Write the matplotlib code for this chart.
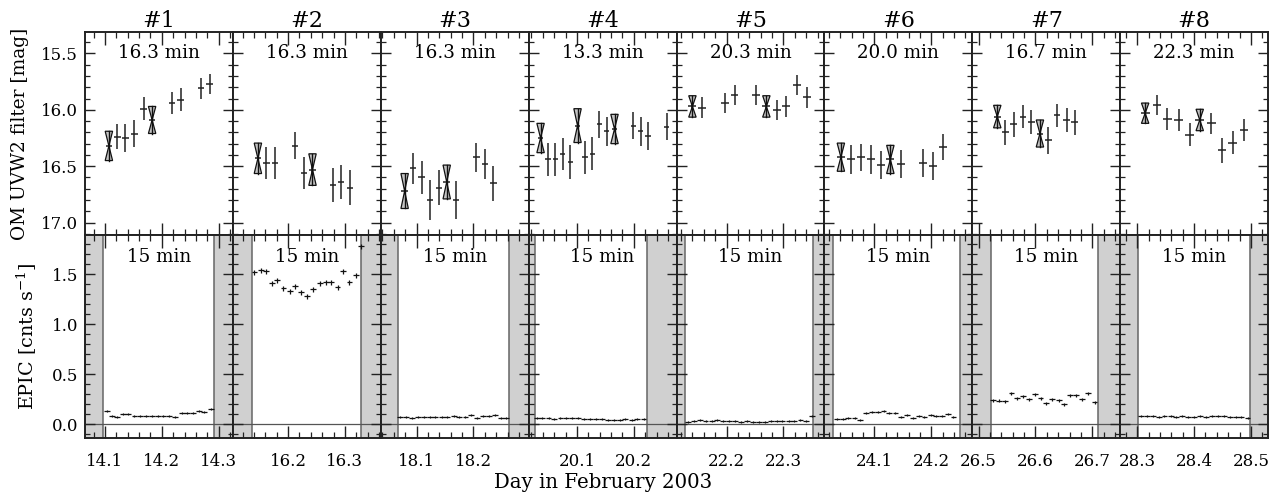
import matplotlib
matplotlib.use('Agg')
import matplotlib.pyplot as plt
from matplotlib.patches import Polygon
from matplotlib.ticker import MultipleLocator, FormatStrFormatter

plt.rcParams['font.family'] = ['DejaVu Serif']
plt.rcParams['mathtext.fontset'] = 'dejavuserif'

# ---------------- data ----------------
panel_titles = ['#1', '#2', '#3', '#4', '#5', '#6', '#7', '#8']
om_bin_labels = ['16.3 min', '16.3 min', '16.3 min', '13.3 min',
                 '20.3 min', '20.0 min', '16.7 min', '22.3 min']
epic_bin_label = '15 min'

x_limits = [(14.065, 14.325), (16.103, 16.363), (18.037, 18.297), (20.015, 20.275),
            (22.112, 22.372), (24.012, 24.272), (26.489, 26.749), (28.270, 28.530)]
x_ticks = [[14.1, 14.2, 14.3], [16.2, 16.3], [18.1, 18.2], [20.1, 20.2],
           [22.2, 22.3], [24.1, 24.2], [26.5, 26.6, 26.7], [28.3, 28.4, 28.5]]
om_yticks = [15.5, 16.0, 16.5, 17.0]
epic_yticks = [0.0, 0.5, 1.0, 1.5]

om_time = [
    [14.107, 14.122, 14.136, 14.152, 14.168, 14.183, 14.218, 14.233, 14.269, 14.284],
    [16.147, 16.162, 16.177, 16.212, 16.228, 16.243, 16.279, 16.293, 16.309],
    [18.079, 18.094, 18.109, 18.124, 18.139, 18.153, 18.169, 18.205, 18.220, 18.235],
    [20.036, 20.049, 20.062, 20.075, 20.088, 20.101, 20.114, 20.127, 20.139, 20.152,
     20.166, 20.199, 20.212, 20.225, 20.258],
    [22.140, 22.157, 22.197, 22.214, 22.252, 22.270, 22.288, 22.305, 22.324, 22.342],
    [24.041, 24.059, 24.077, 24.094, 24.111, 24.128, 24.146, 24.185, 24.203, 24.221],
    [26.533, 26.547, 26.562, 26.578, 26.593, 26.608, 26.623, 26.638, 26.655, 26.669],
    [28.314, 28.335, 28.353, 28.373, 28.392, 28.410, 28.430, 28.449, 28.468, 28.488],
]
om_mag = [
    [16.32, 16.24, 16.25, 16.21, 15.99, 16.09, 15.94, 15.91, 15.81, 15.77],
    [16.43, 16.47, 16.47, 16.32, 16.56, 16.53, 16.67, 16.64, 16.69],
    [16.72, 16.52, 16.60, 16.80, 16.69, 16.64, 16.80, 16.42, 16.48, 16.65],
    [16.25, 16.44, 16.44, 16.39, 16.46, 16.14, 16.42, 16.39, 16.13, 16.19,
     16.17, 16.14, 16.19, 16.23, 16.15],
    [15.97, 15.98, 15.94, 15.87, 15.87, 15.97, 16.00, 15.97, 15.78, 15.89],
    [16.42, 16.44, 16.42, 16.44, 16.49, 16.44, 16.48, 16.47, 16.50, 16.33],
    [16.06, 16.20, 16.13, 16.06, 16.11, 16.21, 16.27, 16.05, 16.09, 16.11],
    [16.03, 15.96, 16.08, 16.09, 16.22, 16.09, 16.12, 16.36, 16.29, 16.18],
]
om_err = [
    [0.13, 0.11, 0.12, 0.12, 0.10, 0.12, 0.10, 0.10, 0.09, 0.09],
    [0.135, 0.14, 0.14, 0.12, 0.145, 0.14, 0.15, 0.155, 0.155],
    [0.155, 0.14, 0.15, 0.18, 0.155, 0.15, 0.17, 0.13, 0.135, 0.155],
    [0.13, 0.15, 0.145, 0.14, 0.15, 0.15, 0.145, 0.145, 0.12, 0.13,
     0.13, 0.12, 0.13, 0.125, 0.12],
    [0.095, 0.09, 0.09, 0.09, 0.09, 0.095, 0.09, 0.09, 0.085, 0.09],
    [0.125, 0.125, 0.12, 0.125, 0.125, 0.125, 0.125, 0.125, 0.125, 0.115],
    [0.10, 0.11, 0.11, 0.105, 0.105, 0.12, 0.12, 0.105, 0.11, 0.11],
    [0.09, 0.09, 0.095, 0.095, 0.105, 0.095, 0.095, 0.11, 0.105, 0.10],
]
om_bowtie_idx = [[0, 5], [0, 5], [0, 5], [0, 5, 10], [0, 5], [0, 5], [0, 5], [0, 5]]
om_half_bin = [0.0057, 0.0057, 0.0057, 0.0046, 0.0070, 0.0069, 0.0058, 0.0077]

epic_time = [
    [14.103, 14.113, 14.122, 14.132, 14.141, 14.152, 14.162, 14.172, 14.182, 14.193,
     14.203, 14.213, 14.223, 14.235, 14.245, 14.255, 14.265, 14.275, 14.287],
    [16.141, 16.153, 16.162, 16.172, 16.181, 16.192, 16.203, 16.213, 16.223, 16.234,
     16.244, 16.256, 16.266, 16.276, 16.287, 16.297, 16.308, 16.319, 16.328],
    [18.071, 18.081, 18.092, 18.102, 18.113, 18.123, 18.133, 18.144, 18.154, 18.165,
     18.175, 18.186, 18.196, 18.206, 18.217, 18.227, 18.238, 18.248, 18.258],
    [20.029, 20.039, 20.050, 20.060, 20.071, 20.081, 20.092, 20.102, 20.112, 20.123,
     20.133, 20.144, 20.154, 20.165, 20.175, 20.185, 20.196, 20.206, 20.217],
    [22.132, 22.142, 22.153, 22.163, 22.174, 22.184, 22.194, 22.205, 22.215, 22.226,
     22.236, 22.246, 22.257, 22.267, 22.278, 22.288, 22.298, 22.309, 22.319, 22.330,
     22.340, 22.350],
    [24.034, 24.044, 24.054, 24.065, 24.075, 24.085, 24.095, 24.106, 24.116, 24.126,
     24.137, 24.147, 24.158, 24.168, 24.178, 24.188, 24.199, 24.209, 24.219, 24.229,
     24.239],
    [26.525, 26.536, 26.547, 26.558, 26.568, 26.578, 26.589, 26.599, 26.609, 26.619,
     26.630, 26.641, 26.651, 26.661, 26.672, 26.682, 26.693, 26.704],
    [28.307, 28.317, 28.327, 28.338, 28.348, 28.359, 28.369, 28.379, 28.390, 28.400,
     28.411, 28.421, 28.431, 28.442, 28.452, 28.463, 28.473, 28.483, 28.494],
]
epic_rate = [
    [0.13, 0.083, 0.067, 0.10, 0.10, 0.083, 0.08, 0.08, 0.08, 0.08,
     0.083, 0.083, 0.073, 0.107, 0.107, 0.113, 0.13, 0.123, 0.15],
    [1.52, 1.54, 1.53, 1.41, 1.44, 1.36, 1.33, 1.38, 1.32, 1.28,
     1.35, 1.41, 1.42, 1.42, 1.37, 1.53, 1.42, 1.49, 1.78],
    [0.075, 0.075, 0.065, 0.07, 0.075, 0.075, 0.075, 0.075, 0.073, 0.08,
     0.07, 0.075, 0.09, 0.06, 0.085, 0.085, 0.09, 0.06, 0.06],
    [0.065, 0.062, 0.058, 0.055, 0.058, 0.06, 0.062, 0.058, 0.05, 0.05,
     0.055, 0.05, 0.045, 0.045, 0.045, 0.05, 0.04, 0.048, 0.05],
    [0.025, 0.035, 0.04, 0.03, 0.03, 0.045, 0.03, 0.03, 0.03, 0.025,
     0.035, 0.025, 0.025, 0.02, 0.035, 0.035, 0.035, 0.03, 0.035, 0.045,
     0.03, 0.08],
    [0.047, 0.05, 0.057, 0.057, 0.04, 0.107, 0.117, 0.123, 0.133, 0.113,
     0.107, 0.073, 0.09, 0.063, 0.083, 0.067, 0.09, 0.083, 0.08, 0.097,
     0.073],
    [0.24, 0.233, 0.23, 0.31, 0.26, 0.28, 0.25, 0.30, 0.26, 0.21,
     0.25, 0.24, 0.20, 0.29, 0.29, 0.25, 0.31, 0.22],
    [0.085, 0.085, 0.08, 0.075, 0.08, 0.078, 0.075, 0.08, 0.072, 0.075,
     0.078, 0.075, 0.08, 0.08, 0.085, 0.075, 0.07, 0.068, 0.06],
]
epic_err = [0.01, 0.025, 0.01, 0.01, 0.01, 0.01, 0.015, 0.01]
epic_half_bin = 0.0052

# good-time intervals (unshaded part of EPIC panels)
gti_start = [14.097, 16.136, 18.067, 20.026, 22.127, 24.028, 26.522, 28.301]
gti_end = [14.291, 16.329, 18.262, 20.223, 22.352, 24.250, 26.710, 28.499]

om_ylim = (17.11, 15.31)
epic_ylim = (-0.14, 1.894)

# ---------------- figure ----------------
W, H = 1286, 497
fig = plt.figure(figsize=(W / 100, H / 100), dpi=100)
L, R = 85 / W, 1268 / W
T, M, B = 1 - 32 / H, 1 - 235 / H, 1 - 438 / H
pw = (R - L) / 8

FS = 12
FS_TXT = 13.2
shade = '#d0d0d0'


def style(ax, xt, yt):
    ax.set_xticks(xt)
    ax.set_yticks(yt)
    ax.xaxis.set_minor_locator(MultipleLocator(0.02))
    ax.yaxis.set_minor_locator(MultipleLocator(0.1))
    ax.tick_params(axis='both', which='both', direction='in', top=True, right=True,
                   colors='#222222', labelcolor='black', labelsize=FS)
    ax.tick_params(axis='x', which='major', length=9, width=1.0, pad=11)
    ax.tick_params(axis='x', which='minor', length=4, width=0.9)
    ax.tick_params(axis='y', which='major', length=7, width=1.0, pad=5)
    ax.tick_params(axis='y', which='minor', length=3.5, width=0.9)
    for sp in ax.spines.values():
        sp.set_linewidth(1.4)
        sp.set_color('#222222')
    ax.xaxis.set_major_formatter(FormatStrFormatter('%.1f'))
    ax.yaxis.set_major_formatter(FormatStrFormatter('%.1f'))


for i in range(8):
    axt = fig.add_axes([L + i * pw, M, pw, T - M])
    axb = fig.add_axes([L + i * pw, B, pw, M - B])

    # ---- OM panel ----
    t, m, e = om_time[i], om_mag[i], om_err[i]
    axt.errorbar(t, m, yerr=e, xerr=om_half_bin[i], fmt='none', ecolor='#222222',
                 elinewidth=1.1, capsize=0, zorder=3)
    w = 0.0065
    for k in om_bowtie_idx[i]:
        x0, y0, e0 = t[k], m[k], e[k]
        top = Polygon([(x0 - w, y0 - e0), (x0 + w, y0 - e0), (x0, y0)], closed=True,
                      facecolor='#c4c4c4', edgecolor='#111111', lw=0.9, zorder=4)
        bot = Polygon([(x0, y0), (x0 - w, y0 + e0), (x0 + w, y0 + e0)], closed=True,
                      facecolor='#c4c4c4', edgecolor='#111111', lw=0.9, zorder=4)
        axt.add_patch(top)
        axt.add_patch(bot)
        axt.plot([x0, x0], [y0 - e0, y0 + e0], color='#111111', lw=1.0, zorder=5)
    axt.set_xlim(*x_limits[i])
    axt.set_ylim(*om_ylim)
    style(axt, x_ticks[i], om_yticks)
    axt.tick_params(axis='x', labelbottom=False)
    axt.set_title(panel_titles[i], fontsize=16, pad=3)
    axt.text(0.5, 0.895, om_bin_labels[i], transform=axt.transAxes, ha='center',
             va='center', fontsize=FS_TXT)

    # ---- EPIC panel ----
    x0, x1 = x_limits[i]
    axb.axvspan(x0, gti_start[i], facecolor=shade, edgecolor='none', zorder=0)
    axb.axvspan(gti_end[i], x1, facecolor=shade, edgecolor='none', zorder=0)
    axb.axvline(gti_start[i], color='#666666', lw=1.1, zorder=1)
    axb.axvline(gti_end[i], color='#666666', lw=1.1, zorder=1)
    axb.axhline(0.0, color='#555555', lw=0.9, zorder=1)
    axb.errorbar(epic_time[i], epic_rate[i], yerr=epic_err[i], xerr=epic_half_bin,
                 fmt='none', ecolor='#111111', elinewidth=0.9, capsize=0, zorder=3)
    axb.set_xlim(x0, x1)
    axb.set_ylim(*epic_ylim)
    style(axb, x_ticks[i], epic_yticks)
    axb.text(0.5, 0.893, epic_bin_label, transform=axb.transAxes, ha='center',
             va='center', fontsize=FS_TXT)

    if i == 0:
        axt.set_ylabel('OM UVW2 filter [mag]', fontsize=13.3)
        axt.yaxis.set_label_coords(-(85 - 29) / (pw * W), 0.5)
        axb.set_ylabel('EPIC [cnts s$^{-1}$]', fontsize=13.8)
        axb.yaxis.set_label_coords(-(85 - 39) / (pw * W), 0.5)
    else:
        axt.tick_params(axis='y', labelleft=False)
        axb.tick_params(axis='y', labelleft=False)

fig.text(603 / W, 1 - 482 / H, 'Day in February 2003', ha='center', va='center',
         fontsize=14.2)

fig.savefig('out.png', dpi=100)
